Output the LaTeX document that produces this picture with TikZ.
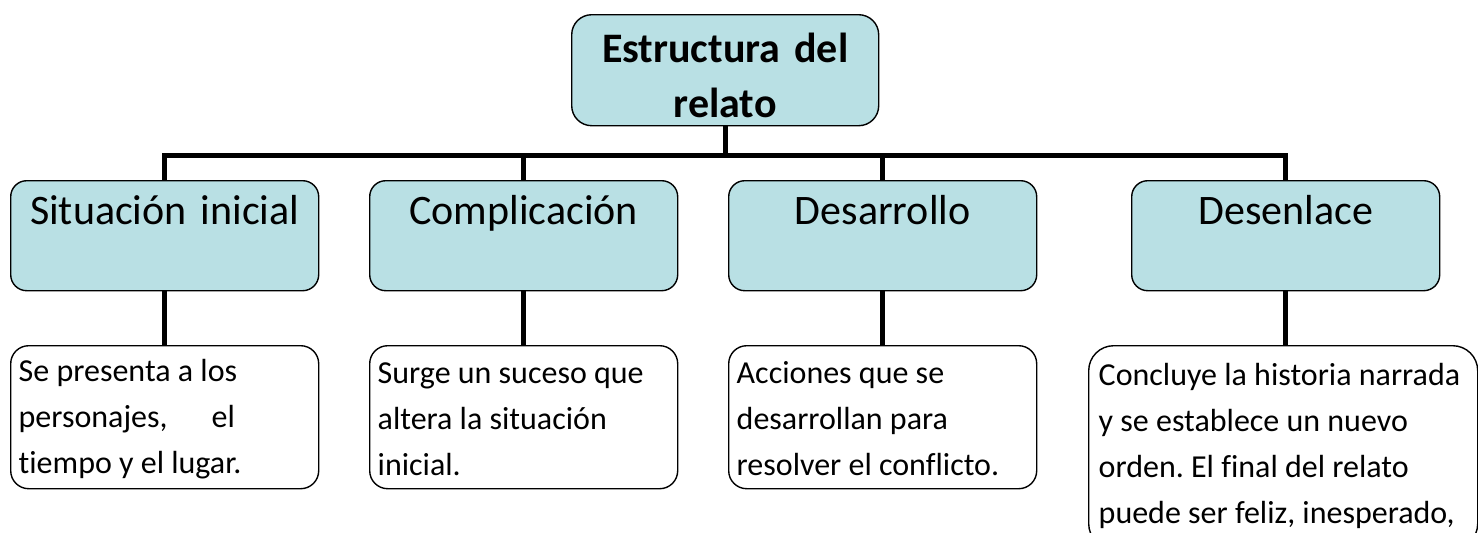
\documentclass[tikz,border=0pt]{standalone}
\usepackage{fontspec}
\setmainfont{Carlito}[Ligatures=NoCommon]
\usepackage{tikz}
\definecolor{boxblue}{RGB}{185,224,228}
\frenchspacing

\begin{document}
\begin{tikzpicture}[x=0.5pt,y=-0.5pt,
	box/.style={draw=black,line width=0.7pt,inner xsep=4pt,inner ysep=0pt,anchor=north west},
	headbox/.style={box,fill=boxblue,rounded corners=8pt,text width=146pt,align=center,text height=22pt,text depth=33pt,font=\fontsize{21}{27.5}\selectfont},
	topbox/.style={headbox,rounded corners=10pt,text width=145.5pt,text height=24pt,text depth=31.5pt,font=\fontsize{21}{27.5}\selectfont\bfseries},
	textbox/.style={box,fill=white,rounded corners=9pt,text width=146pt,align=flush left,text height=18pt,text depth=53.5pt,font=\fontsize{16}{23}\selectfont},
	link/.style={line width=2.5pt}]
		\useasboundingbox (0,0) rectangle (1478,532);
		\clip (0,0) rectangle (1478,532);
		\node[topbox] (relato) at (571,14) {Estructura del\\relato}; % top
		\node[headbox] (inicial) at (10,180) {Situación inicial};
		\node[headbox] (compl) at (369,180) {Complicación};
		\node[headbox] (desarr) at (728,180) {Desarrollo};
		\node[headbox] (desenl) at (1131,180) {Desenlace};
		\node[textbox] (inicialT) at (10,345) {Se presenta a los\\personajes,\hspace{22pt}el\\tiempo y el lugar.};
		\node[textbox,text height=19pt,text depth=52.5pt] (complT) at (369,345) {Surge un suceso que\\altera la situación\\inicial.};
		\node[textbox,text height=19pt,text depth=52.5pt] (desarrT) at (728,345) {Acciones que se\\desarrollan para\\resolver el conflicto.};
		\node[textbox,rounded corners=12.5pt,inner xsep=5pt,text width=184.5pt,text height=20pt,text depth=81.5pt] (desenlT) at (1088,345) {\mbox{Concluye la historia narrada}\\y se establece un nuevo\\orden. El final del relato\\puede ser feliz, inesperado,}; % cut at the bottom
		\coordinate (bar) at (relato.south |- 0,155); % horizontal bar
		\draw[link] (relato.south) -- (bar) -| (inicial.north);
		\draw[link] (bar) -| (compl.north);
		\draw[link] (bar) -| (desarr.north);
		\draw[link] (bar) -| (desenl.north);
		\draw[link] (inicial.south) -- (inicialT.north);
		\draw[link] (compl.south) -- (complT.north);
		\draw[link] (desarr.south) -- (desarrT.north);
		\draw[link] (desenl.south) -- (desenl.south |- desenlT.north);
\end{tikzpicture}
\end{document}
